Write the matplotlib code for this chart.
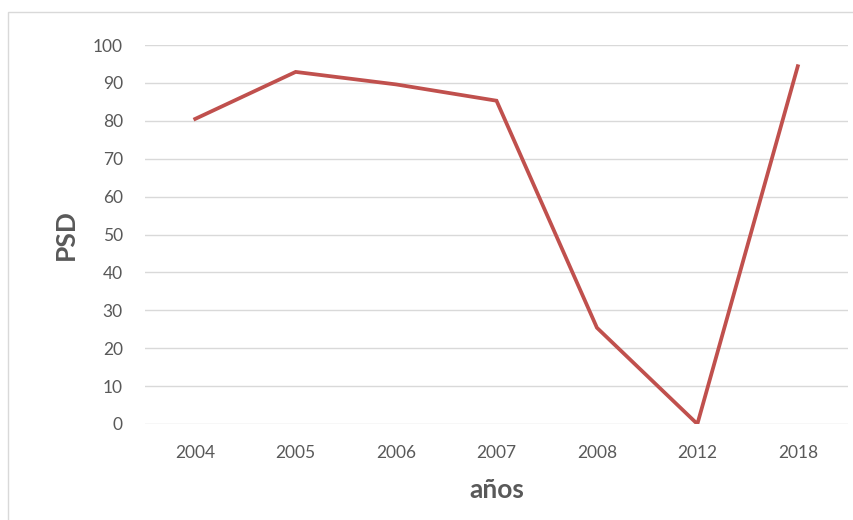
import matplotlib
matplotlib.use("Agg")
import matplotlib.pyplot as plt
from matplotlib.patches import Rectangle

years = ["2004", "2005", "2006", "2007", "2008", "2012", "2018"]
psd = [80.5, 92.9, 89.6, 85.3, 25.4, 0, 94.4]

plt.rcParams["font.family"] = ["Lato", "DejaVu Sans"]

fig = plt.figure(figsize=(8.54, 5.2), dpi=100)
# thin chart-area border
fig.patches.append(Rectangle((8 / 854, -0.1), 1.0, 1 - 12 / 520 + 0.1,
                             transform=fig.transFigure, fill=False,
                             edgecolor="#D9D9D9", linewidth=1.0))

ax = fig.add_axes([145 / 854, 1 - 424 / 520, 703 / 854, 379 / 520])
x = list(range(len(years)))
ax.plot(x, psd, color="#C0504D", linewidth=2.7, solid_joinstyle="miter")

ax.set_xlim(-0.5, len(years) - 0.5)
ax.set_ylim(0, 100)
ax.set_yticks(range(0, 101, 10))
ax.set_xticks(x)
ax.set_xticklabels(years)
ax.grid(axis="y", color="#D9D9D9", linewidth=1.0)
ax.set_axisbelow(True)
for side in ["top", "right", "left", "bottom"]:
    ax.spines[side].set_visible(False)
ax.tick_params(length=0, colors="#595959", labelsize=12.5)
ax.tick_params(axis="y", pad=16)
ax.tick_params(axis="x", pad=15)

ax.set_ylabel("PSD", fontsize=19, fontweight="bold", color="#595959",
              va="center", ha="center")
ax.yaxis.set_label_coords(-0.112, 0.5)
ax.set_xlabel("años", fontsize=19, fontweight="bold", color="#595959",
              va="center", ha="center")
ax.xaxis.set_label_coords(0.5, -0.174)

fig.savefig("out.png", dpi=100)
